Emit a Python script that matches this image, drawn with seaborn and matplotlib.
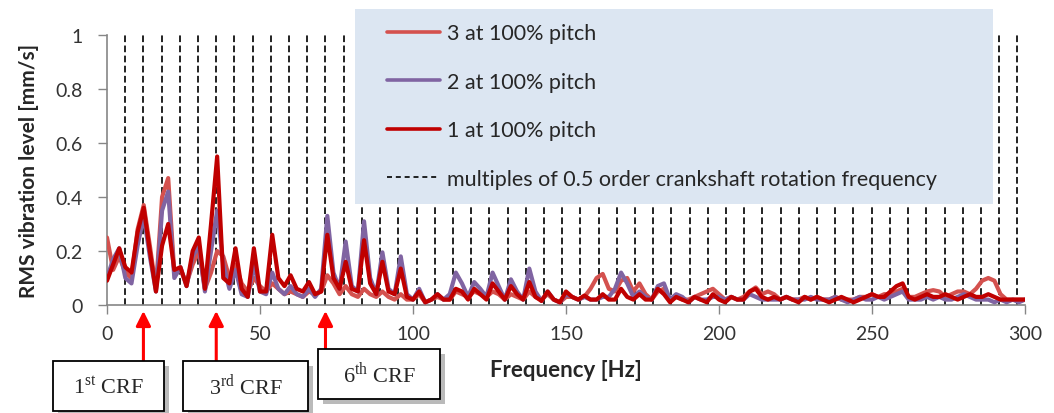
import numpy as np
import pandas as pd
import matplotlib
matplotlib.use("Agg")
import matplotlib.pyplot as plt
from matplotlib.lines import Line2D
from matplotlib.patches import Rectangle
import seaborn as sns

sns.set_theme(style="white")
plt.rcParams["font.family"] = ["Lato", "DejaVu Sans"]
plt.rcParams["mathtext.fontset"] = "custom"
plt.rcParams["mathtext.rm"] = "Liberation Serif"

# frequency grid (Hz) and half-order crankshaft frequency
freq = np.arange(0, 301, 2)
half_order_hz = 5.95
crf_orders = [1, 3, 6]
crf_labels = ["1$^{\\rm st}$ CRF", "3$^{\\rm rd}$ CRF", "6$^{\\rm th}$ CRF"]

series_names = ["3 at 100% pitch", "2 at 100% pitch", "1 at 100% pitch"]
series_colors = ["#d4514e", "#8064a2", "#c00000"]
dash_label = "multiples of 0.5 order crankshaft rotation frequency"

# RMS values [mm/s], one value every 2 Hz, rows of 20 Hz
rms_3 = [0.25, 0.13, 0.18, 0.12, 0.10, 0.28, 0.37, 0.22, 0.06, 0.40,
         0.47, 0.12, 0.13, 0.08, 0.15, 0.20, 0.06, 0.12, 0.20, 0.18,
         0.10, 0.15, 0.08, 0.05, 0.10, 0.07, 0.05, 0.08, 0.06, 0.04,
         0.05, 0.04, 0.03, 0.05, 0.04, 0.05, 0.11, 0.08, 0.04, 0.07,
         0.04, 0.03, 0.06, 0.04, 0.03, 0.05, 0.03, 0.02, 0.04, 0.02,
         0.02, 0.04, 0.01, 0.02, 0.03, 0.02, 0.02, 0.05, 0.04, 0.03,
         0.05, 0.04, 0.03, 0.05, 0.04, 0.02, 0.04, 0.03, 0.02, 0.05,
         0.03, 0.02, 0.04, 0.02, 0.01, 0.03, 0.03, 0.02, 0.03, 0.06,
         0.10, 0.115, 0.06, 0.05, 0.09, 0.10, 0.05, 0.08, 0.04, 0.02,
         0.05, 0.06, 0.02, 0.03, 0.02, 0.02, 0.03, 0.04, 0.05, 0.06,
         0.04, 0.02, 0.03, 0.02, 0.03, 0.05, 0.065, 0.04, 0.05, 0.04,
         0.02, 0.03, 0.02, 0.02, 0.03, 0.02, 0.03, 0.02, 0.02, 0.03,
         0.02, 0.02, 0.02, 0.03, 0.03, 0.04, 0.03, 0.04, 0.04, 0.05,
         0.06, 0.03, 0.03, 0.04, 0.05, 0.055, 0.05, 0.03, 0.04, 0.05,
         0.05, 0.04, 0.06, 0.09, 0.10, 0.09, 0.04, 0.02, 0.02, 0.02,
         0.02]
rms_2 = [0.10, 0.17, 0.21, 0.10, 0.08, 0.22, 0.33, 0.18, 0.05, 0.35,
         0.42, 0.10, 0.14, 0.07, 0.18, 0.22, 0.05, 0.20, 0.35, 0.15,
         0.06, 0.13, 0.04, 0.03, 0.15, 0.05, 0.04, 0.12, 0.06, 0.04,
         0.07, 0.04, 0.03, 0.06, 0.03, 0.06, 0.33, 0.12, 0.06, 0.235,
         0.07, 0.05, 0.31, 0.10, 0.04, 0.195, 0.06, 0.04, 0.18, 0.04,
         0.02, 0.06, 0.01, 0.02, 0.04, 0.02, 0.04, 0.12, 0.08, 0.03,
         0.085, 0.06, 0.03, 0.12, 0.07, 0.02, 0.095, 0.05, 0.02, 0.135,
         0.05, 0.015, 0.05, 0.02, 0.01, 0.04, 0.03, 0.02, 0.03, 0.02,
         0.02, 0.03, 0.03, 0.06, 0.12, 0.08, 0.03, 0.05, 0.03, 0.02,
         0.07, 0.08, 0.02, 0.04, 0.03, 0.01, 0.03, 0.02, 0.02, 0.03,
         0.03, 0.02, 0.03, 0.02, 0.02, 0.04, 0.03, 0.02, 0.02, 0.02,
         0.02, 0.03, 0.02, 0.02, 0.02, 0.03, 0.02, 0.02, 0.02, 0.03,
         0.02, 0.01, 0.02, 0.03, 0.02, 0.02, 0.03, 0.02, 0.03, 0.04,
         0.05, 0.02, 0.02, 0.02, 0.03, 0.02, 0.03, 0.02, 0.02, 0.03,
         0.04, 0.03, 0.02, 0.02, 0.02, 0.01, 0.02, 0.01, 0.02, 0.01,
         0.02]
rms_1 = [0.09, 0.15, 0.21, 0.14, 0.12, 0.27, 0.36, 0.20, 0.05, 0.22,
         0.30, 0.13, 0.14, 0.07, 0.20, 0.25, 0.06, 0.30, 0.55, 0.10,
         0.08, 0.21, 0.06, 0.03, 0.21, 0.05, 0.05, 0.26, 0.10, 0.07,
         0.11, 0.06, 0.05, 0.085, 0.04, 0.05, 0.26, 0.10, 0.06, 0.16,
         0.06, 0.05, 0.24, 0.08, 0.04, 0.16, 0.05, 0.04, 0.135, 0.03,
         0.02, 0.05, 0.01, 0.02, 0.04, 0.02, 0.02, 0.06, 0.05, 0.02,
         0.06, 0.04, 0.02, 0.08, 0.05, 0.02, 0.07, 0.04, 0.02, 0.085,
         0.03, 0.015, 0.05, 0.02, 0.01, 0.05, 0.03, 0.02, 0.035, 0.02,
         0.02, 0.04, 0.02, 0.02, 0.06, 0.03, 0.02, 0.04, 0.02, 0.02,
         0.06, 0.04, 0.01, 0.03, 0.02, 0.01, 0.03, 0.02, 0.01, 0.04,
         0.02, 0.01, 0.03, 0.02, 0.02, 0.05, 0.06, 0.03, 0.02, 0.03,
         0.02, 0.03, 0.02, 0.01, 0.03, 0.02, 0.03, 0.02, 0.01, 0.02,
         0.03, 0.02, 0.01, 0.02, 0.03, 0.04, 0.03, 0.03, 0.05, 0.07,
         0.08, 0.03, 0.02, 0.03, 0.04, 0.03, 0.03, 0.04, 0.03, 0.02,
         0.03, 0.04, 0.03, 0.03, 0.04, 0.03, 0.02, 0.02, 0.02, 0.02,
         0.02]

df = pd.concat([
    pd.DataFrame({"freq": freq, "rms": vals, "series": name})
    for name, vals in zip(series_names, [rms_3, rms_2, rms_1])
])

W, H = 1054, 414
fig = plt.figure(figsize=(W / 100, H / 100), dpi=100)
ax = fig.add_axes([107 / W, 1 - 306 / H, (1025 - 107) / W, 270 / H])

# dashed lines at multiples of the half order
dash_pos = np.arange(1, 51) * half_order_hz
for xv in dash_pos:
    ax.axvline(xv, color="#111111", ls=(0, (3.7, 1.9)), lw=1.3, zorder=1)

sns.lineplot(data=df, x="freq", y="rms", hue="series", hue_order=series_names,
             palette=series_colors, linewidth=3.0, legend=False, ax=ax, zorder=3)

ax.set_xlim(0, 300)
ax.set_ylim(0, 1)
ax.set_xticks(range(0, 301, 50))
ax.set_yticks([0, 0.2, 0.4, 0.6, 0.8, 1])
ax.set_yticklabels(["0", "0.2", "0.4", "0.6", "0.8", "1"])
ax.tick_params(axis="both", direction="out", length=6.5, width=1, color="#868686",
               labelsize=14, labelcolor="#333333", bottom=True, left=True)
ax.tick_params(axis="x", pad=8)
ax.tick_params(axis="y", pad=11)
for side in ["top", "right"]:
    ax.spines[side].set_visible(False)
for side in ["left", "bottom"]:
    ax.spines[side].set_color("#868686")
    ax.spines[side].set_linewidth(1.2)
ax.set_xlabel("Frequency [Hz]", fontsize=16, fontweight="bold", labelpad=12.5)
ax.set_ylabel("RMS vibration level [mm/s]", fontsize=15, fontweight="bold", labelpad=12)

# legend box
fig.add_artist(Rectangle((355 / W, 1 - 205 / H), (993 - 355) / W, 195 / H,
                         transform=fig.transFigure, facecolor="#dce6f2",
                         edgecolor="none", zorder=4))
handles = [Line2D([], [], color=c, lw=2.6) for c in series_colors]
handles.append(Line2D([], [], color="black", lw=1.2, ls=(0, (3, 2.3))))
fig.legend(handles, series_names + [dash_label], loc="upper left",
           bbox_to_anchor=(368 / W, 1 - 5 / H), frameon=False, fontsize=15.5,
           handlelength=2.45, labelspacing=1.32, handletextpad=0.3)

# CRF callouts
boxes = [(53, 362, 111, 50), (183, 362, 125, 50), (318, 350, 122, 50)]
for order, label, (bx, by, bw, bh) in zip(crf_orders, crf_labels, boxes):
    xr = order * 2 * half_order_hz
    tail = -(by - 306) / 270
    ax.annotate("", xy=(xr, -0.022), xycoords=("data", "axes fraction"),
                xytext=(xr, tail), textcoords=("data", "axes fraction"),
                arrowprops=dict(arrowstyle="-|>", color="red", lw=2.2,
                                mutation_scale=22, shrinkA=0, shrinkB=0),
                annotation_clip=False)
    fig.add_artist(Rectangle(((bx + 5) / W, 1 - (by + bh + 5) / H), bw / W, bh / H,
                             transform=fig.transFigure, facecolor="#8c8c8c",
                             edgecolor="none", alpha=0.6, zorder=5))
    fig.add_artist(Rectangle((bx / W, 1 - (by + bh) / H), bw / W, bh / H,
                             transform=fig.transFigure, facecolor="white",
                             edgecolor="black", lw=1.3, zorder=6))
    fig.text((bx + bw / 2) / W, 1 - (by + bh / 2) / H, label, ha="center",
             va="center", fontsize=16, family="Liberation Serif", zorder=7)

fig.savefig("out.png", dpi=100)
